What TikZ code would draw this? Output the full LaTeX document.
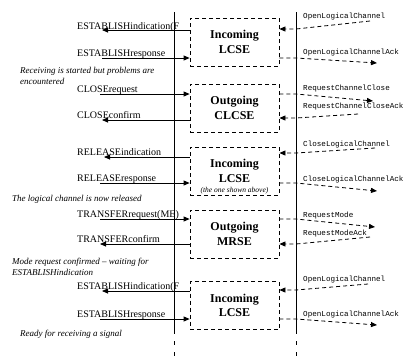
\documentclass[tikz,border=0pt]{standalone}
\usepackage{fontspec}
\setmainfont{Liberation Serif}
\setmonofont{Liberation Mono}
\usetikzlibrary{arrows.meta,positioning}

\begin{document}
\begin{tikzpicture}[x=1pt, y=-1pt,
  cse/.style={draw, line width=0.8pt, dash pattern=on 4pt off 3pt,
    minimum width=89pt, minimum height=48pt, align=center,
    font=\fontsize{12}{14.5}\selectfont\bfseries},
  prim/.style={anchor=base west, inner sep=0pt, font=\fontsize{10}{12}\selectfont},
  pdu/.style={anchor=base west, inner sep=0pt, font=\fontsize{7.6}{9}\selectfont\ttfamily},
  remark/.style={anchor=base west, inner sep=0pt, font=\fontsize{9}{11}\selectfont\itshape},
  aside/.style={inner sep=0pt, font=\fontsize{7.5}{9}\selectfont\itshape},
  smsg/.style={line width=0.8pt, -{Triangle[length=6pt,width=5pt]}},
  dmsg/.style={line width=0.8pt, dash pattern=on 4pt off 3pt, -{Triangle[length=6pt,width=5pt]}}]
\useasboundingbox (0,0) rectangle (420,360);

% user side and peer side
\draw[line width=0.8pt] (174,12) -- (174,330);
\draw[line width=0.8pt, dash pattern=on 4pt off 7pt] (174,330) -- (174,358);
\draw[line width=0.8pt] (296,12) -- (296,330);
\draw[line width=0.8pt, dash pattern=on 4pt off 7pt] (296,330) -- (296,358);

\node[cse] (lcse1) at (234.5,42) {Incoming\\LCSE};
\node[cse] (clcse) at (234.5,108) {Outgoing\\CLCSE};
\node[cse] (lcse2) at (234.5,171) {Incoming\\LCSE};
\node[aside, above=1.5pt of lcse2.south] (lcse2n) {(the one shown above)};
\node[cse] (mrse) at (234.5,234) {Outgoing\\MRSE};
\node[cse] (lcse3) at (234.5,305.5) {Incoming\\LCSE};

% primitives
\node[prim] (estind1t) at (77,29.5) {ESTABLISHindication(F};
\node[prim] (estres1t) at (77,56.5) {ESTABLISHresponse};
\node[prim] (closereqt) at (77,92.5) {CLOSErequest};
\node[prim] (closecnft) at (77,118.5) {CLOSEconfirm};
\node[prim] (relindt) at (77,155.5) {RELEASEindication};
\node[prim] (relrest) at (77,181.5) {RELEASEresponse};
\node[prim] (trfreqt) at (77,217.5) {TRANSFERrequest(ME)};
\node[prim] (trfcnft) at (77,242.5) {TRANSFERconfirm};
\node[prim] (estind2t) at (77,289.5) {ESTABLISHindication(F};
\node[prim] (estres2t) at (77,317.5) {ESTABLISHresponse};

\coordinate (estind1) at (102,30);
\coordinate (estres1) at (102,58);
\coordinate (closereq) at (100,94);
\coordinate (closecnf) at (102,120);
\coordinate (relind) at (104,157);
\coordinate (relres) at (100,183);
\coordinate (trfreq) at (100,219);
\coordinate (trfcnf) at (100,244);
\coordinate (estind2) at (102,291);
\coordinate (estres2) at (100,319);

\draw[smsg] (estind1 -| lcse1.west) -- (estind1);
\draw[smsg] (estres1) -- (estres1 -| lcse1.west);
\draw[smsg] (closereq) -- (closereq -| clcse.west);
\draw[smsg] (closecnf -| clcse.west) -- (closecnf);
\draw[smsg] (relind -| lcse2.west) -- (relind);
\draw[smsg] (relres) -- (relres -| lcse2.west);
\draw[smsg] (trfreq) -- (trfreq -| mrse.west);
\draw[smsg] (trfcnf -| mrse.west) -- (trfcnf);
\draw[smsg] (estind2 -| lcse3.west) -- (estind2);
\draw[smsg] (estres2) -- (estres2 -| lcse3.west);

% peer messages
\node[pdu] (olc1t) at (303,18.5) {OpenLogicalChannel};
\node[pdu] (olcack1t) at (303,54.5) {OpenLogicalChannelAck};
\node[pdu] (rcct) at (303,90) {RequestChannelClose};
\node[pdu] (rccackt) at (303,108) {RequestChannelCloseAck};
\node[pdu] (clct) at (303,146) {CloseLogicalChannel};
\node[pdu] (clcackt) at (303,181) {CloseLogicalChannelAck};
\node[pdu] (rmt) at (303,217) {RequestMode};
\node[pdu] (rmackt) at (303,235) {RequestModeAck};
\node[pdu] (olc2t) at (303,281) {OpenLogicalChannel};
\node[pdu] (olcack2t) at (303,316) {OpenLogicalChannelAck};

\coordinate (olc1) at (370,21);      \coordinate (olc1b) at (296,29);
\coordinate (olcack1) at (377,63);   \coordinate (olcack1b) at (296,58);
\coordinate (rcc) at (373,101);      \coordinate (rccb) at (296,94);
\coordinate (rccack) at (358,114);   \coordinate (rccackb) at (296,118);
\coordinate (clc) at (375,148);      \coordinate (clcb) at (296,153);
\coordinate (clcack) at (377,191);   \coordinate (clcackb) at (296,183);
\coordinate (rm) at (375,227);       \coordinate (rmb) at (296,219);
\coordinate (rmack) at (370,237);    \coordinate (rmackb) at (296,244);
\coordinate (olc2) at (368,284);     \coordinate (olc2b) at (296,290);
\coordinate (olcack2) at (377,325);  \coordinate (olcack2b) at (296,319);

\draw[dmsg] (olc1) -- (olc1b) -- (olc1b -| lcse1.east);
\draw[dmsg] (olcack1b -| lcse1.east) -- (olcack1b) -- (olcack1);
\draw[dmsg] (rccb -| clcse.east) -- (rccb) -- (rcc);
\draw[dmsg] (rccack) -- (rccackb) -- (rccackb -| clcse.east);
\draw[dmsg] (clc) -- (clcb) -- (clcb -| lcse2.east);
\draw[dmsg] (clcackb -| lcse2.east) -- (clcackb) -- (clcack);
\draw[dmsg] (rmb -| mrse.east) -- (rmb) -- (rm);
\draw[dmsg] (rmack) -- (rmackb) -- (rmackb -| mrse.east);
\draw[dmsg] (olc2) -- (olc2b) -- (olc2b -| lcse3.east);
\draw[dmsg] (olcack2b -| lcse3.east) -- (olcack2b) -- (olcack2);

% remarks
\node[remark] (rem1) at (20,73) {Receiving is started but problems are};
\node[remark] (rem1b) at (20,84) {encountered};
\node[remark] (rem2) at (12,201) {The logical channel is now released};
\node[remark] (rem3) at (12,264) {Mode request confirmed – waiting for};
\node[remark] (rem3b) at (12,275) {ESTABLISHindication};
\node[remark] (rem4) at (20,336) {Ready for receiving a signal};
\end{tikzpicture}
\end{document}
